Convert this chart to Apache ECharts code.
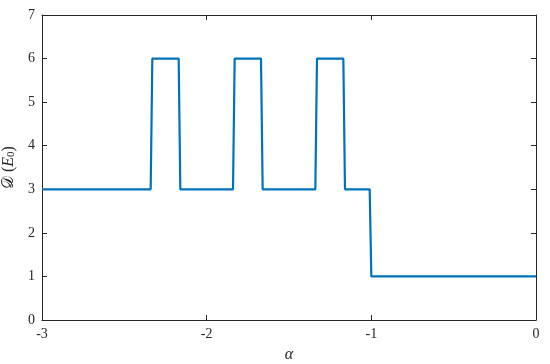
<!DOCTYPE html>
<html>
<head>
<meta charset="utf-8">
<script src="https://cdn.jsdelivr.net/npm/echarts@6/dist/echarts.min.js"></script>
<style>
  html, body { margin: 0; padding: 0; background: #fff; }
  #chart { width: 550px; height: 364px; }
</style>
</head>
<body>
<div id="chart"></div>
<script>
// 数据：alpha 与 D(E0) 的阶梯曲线
var alpha = [-3, -2.34, -2.33, -2.17, -2.16, -1.84, -1.83, -1.67, -1.66, -1.34, -1.33, -1.17, -1.16, -1.01, -1.00, 0];
var dosE0 = [3, 3, 6, 6, 3, 3, 6, 6, 3, 3, 6, 6, 3, 3, 1, 1];
var xTicks = [-3, -2, -1, 0];
var yTicks = [0, 1, 2, 3, 4, 5, 6, 7];

var axisColor = '#262626';
var serif = '"Liberation Serif", "DejaVu Serif", serif';

var points = alpha.map(function (a, i) { return [a, dosE0[i]]; });

var myChart = echarts.init(document.getElementById('chart'));

var baseAxis = {
    axisLine: { show: true, onZero: false, lineStyle: { color: axisColor, width: 1 } },
    axisTick: { show: true, inside: true, length: 5, lineStyle: { color: axisColor, width: 1 } },
    splitLine: { show: false },
    axisLabel: { color: axisColor, fontFamily: serif, fontSize: 14 }
};

var option = {
    animation: false,
    backgroundColor: '#fff',
    grid: { left: 42, right: 14, top: 15, bottom: 44, containLabel: false, outerBoundsMode: 'none' },
    xAxis: [
        echarts.util.merge({
            type: 'value', min: xTicks[0], max: xTicks[xTicks.length - 1], interval: 1, position: 'bottom',
            axisLabel: { margin: 7 },
            name: 'α', nameLocation: 'middle', nameGap: 27,
            nameTextStyle: { color: axisColor, fontFamily: serif, fontStyle: 'italic', fontSize: 16 }
        }, baseAxis, false),
        echarts.util.merge({
            type: 'value', min: xTicks[0], max: xTicks[xTicks.length - 1], interval: 1, position: 'top'
        }, echarts.util.merge({ axisLabel: { show: false } }, baseAxis, false), false)
    ],
    yAxis: [
        echarts.util.merge({
            type: 'value', min: yTicks[0], max: yTicks[yTicks.length - 1], interval: 1, position: 'left',
            axisLabel: { margin: 7 },
            name: '{d|𝒟} {p|(}{e|E}{s|0}{p|)}', nameLocation: 'middle', nameGap: 18,
            nameTextStyle: {
                color: axisColor, fontFamily: serif, fontSize: 15,
                rich: {
                    d: { fontFamily: serif, fontSize: 16, color: axisColor },
                    p: { fontFamily: serif, fontSize: 16, color: axisColor },
                    e: { fontFamily: serif, fontStyle: 'italic', fontSize: 16, color: axisColor },
                    s: { fontFamily: serif, fontSize: 11, color: axisColor, verticalAlign: 'bottom', padding: [6, 0, 0, 0] }
                }
            }
        }, baseAxis, false),
        echarts.util.merge({
            type: 'value', min: yTicks[0], max: yTicks[yTicks.length - 1], interval: 1, position: 'right'
        }, echarts.util.merge({ axisLabel: { show: false } }, baseAxis, false), false)
    ],
    series: [{
        type: 'line',
        data: points,
        showSymbol: false,
        symbol: 'none',
        lineStyle: { color: '#0072BD', width: 2.2 },
        clip: true
    }]
};

myChart.setOption(option);
</script>
</body>
</html>
